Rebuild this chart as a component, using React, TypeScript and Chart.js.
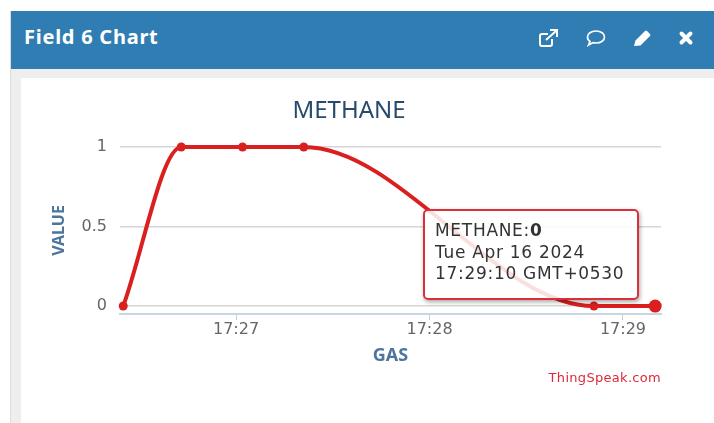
import React, { useEffect, useRef } from "react";
import { Chart, registerables } from "chart.js";

Chart.register(...registerables);

const times = ["17:26:25", "17:26:43", "17:27:02", "17:27:21", "17:28:51", "17:29:10"];
const values = [0, 1, 1, 1, 0, 0];
const xTickTimes = ["17:27:00", "17:28:00", "17:29:00"];
const yTicks = [0, 0.5, 1];
const xRange = ["17:26:24", "17:29:11.8"];
const seriesName = "METHANE";
const xTitle = "GAS";
const yTitle = "VALUE";
const panelTitle = "Field 6 Chart";
const credit = "ThingSpeak.com";
const tipDate = "Tue Apr 16 2024";
const tipTime = "17:29:10 GMT+0530";

const secs = (t: string) => {
  const [h, m, s] = t.split(":").map(Number);
  return h * 3600 + m * 60 + s;
};
const hhmm = (v: number) => {
  const h = Math.floor(v / 3600);
  const m = Math.round((v - h * 3600) / 60);
  return `${h}:${String(m).padStart(2, "0")}`;
};

const TICK_FONT = "'DejaVu Sans'";
const TITLE_FONT = "'Noto Sans'";

export default function App() {
  const ref = useRef<HTMLCanvasElement>(null);

  useEffect(() => {
    const chart = new Chart(ref.current!, {
      type: "line",
      data: {
        datasets: [
          {
            label: seriesName,
            data: times.map((t, i) => ({ x: secs(t), y: values[i] })),
            borderColor: "#d9201f",
            backgroundColor: "#d9201f",
            borderWidth: 4,
            cubicInterpolationMode: "monotone",
            pointRadius: 4.5,
            pointBorderWidth: 0,
            pointHoverRadius: 6.5,
            pointHoverBorderWidth: 0,
            pointHoverBackgroundColor: "#d9201f",
            clip: false,
          },
        ],
      },
      options: {
        animation: false,
        responsive: false,
        events: [],
        layout: { padding: { left: 16, right: 16, top: 19, bottom: 59 } },
        plugins: {
          legend: { display: false },
          tooltip: { enabled: false },
          title: {
            display: true,
            text: seriesName,
            color: "#274b6d",
            font: { family: TITLE_FONT, size: 24, weight: "normal", lineHeight: 1.2 },
            padding: { top: 0, bottom: 21.2 },
          },
        },
        scales: {
          x: {
            type: "linear",
            min: secs(xRange[0]),
            max: secs(xRange[1]),
            afterFit: (s: any) => {
              s.height = 50;
            },
            afterBuildTicks: (s: any) => {
              s.ticks = xTickTimes.map((t) => ({ value: secs(t) }));
            },
            border: { color: "#c8d6e4", width: 2 },
            grid: { drawOnChartArea: false, drawTicks: true, tickLength: 6, color: "#c0d0e0" },
            ticks: {
              color: "#666666",
              font: { family: TICK_FONT, size: 16 },
              padding: 0,
              maxRotation: 0,
              autoSkip: false,
              callback: (v: any) => hhmm(Number(v)),
            },
            title: {
              display: true,
              text: xTitle,
              color: "#4d759e",
              font: { family: TITLE_FONT, size: 18, weight: "bold", lineHeight: 1.2 },
              padding: { top: 0, bottom: -3 },
            },
          },
          y: {
            min: -0.05,
            max: 1,
            afterFit: (s: any) => {
              s.width = 83;
            },
            afterBuildTicks: (s: any) => {
              s.ticks = yTicks.map((v) => ({ value: v }));
            },
            border: { display: false },
            grid: { color: "#d6d6d6", lineWidth: 1.6, drawTicks: false },
            ticks: {
              color: "#666666",
              font: { family: TICK_FONT, size: 16 },
              padding: 13,
              callback: (v: any) => String(v),
            },
            title: {
              display: true,
              text: yTitle,
              color: "#4d759e",
              font: { family: TITLE_FONT, size: 16, weight: "bold", lineHeight: 1.2 },
              padding: { top: 13, bottom: 0 },
            },
          },
        },
      },
    } as any);
    chart.setActiveElements([{ datasetIndex: 0, index: times.length - 1 }]);
    chart.update();
    return () => chart.destroy();
  }, []);

  const icon = { position: "absolute", top: 28, width: 22, height: 20 } as const;

  return (
    <div style={{ position: "fixed", left: 0, top: 0, width: 714, height: 423, background: "#ffffff", overflow: "hidden" }}>
      <div style={{ position: "absolute", left: 10, top: 11, width: 704, height: 412, background: "#eeeeee", borderLeft: "1px solid #dddddd", boxSizing: "border-box" }} />
      <div
        style={{
          position: "absolute",
          left: 11,
          top: 11,
          width: 703,
          height: 58,
          background: "#2f7db3",
          color: "#ffffff",
          font: "bold 20px 'Noto Sans'",
          letterSpacing: "0.75px",
          lineHeight: "51px",
          paddingLeft: 13,
          boxSizing: "border-box",
        }}
      >
        {panelTitle}
      </div>
      <svg style={{ ...icon, left: 537 }} viewBox="0 0 22 20" fill="none" stroke="#fff" strokeWidth="2">
        <path d="M15 11v5a2 2 0 0 1-2 2H5a2 2 0 0 1-2-2V8a2 2 0 0 1 2-2h6" />
        <path d="M9 12 19 3M13 2h7v7" />
      </svg>
      <svg style={{ ...icon, left: 585 }} viewBox="0 0 22 20" fill="none" stroke="#fff" strokeWidth="1.7">
        <path d="M11 3c5 0 8.500 2.500 8.500 6s-3.500 6-8.500 6c-1 0-2 0-3-.4L3.500 17l1.500-3.500C3.300 12.500 2.500 11 2.500 9c0-3.500 3.500-6 8.500-6z" />
      </svg>
      <svg style={{ ...icon, left: 631 }} viewBox="0 0 22 20" fill="#fff">
        <path d="M3 18l1.500-5.500L14 3a1.500 1.500 0 0 1 2 0l3 3a1.500 1.500 0 0 1 0 2l-9.500 9.500z" />
      </svg>
      <svg style={{ ...icon, left: 675 }} viewBox="0 0 22 20" fill="none" stroke="#fff" strokeWidth="4" strokeLinecap="round">
        <path d="M6.500 5.500 15.500 14.500M15.500 5.500 6.500 14.500" />
      </svg>
      <div style={{ position: "absolute", left: 21, top: 78, width: 693, height: 345, background: "#ffffff" }} />
      <canvas ref={ref} width={656} height={345} style={{ position: "absolute", left: 21, top: 78, width: 656, height: 345 }} />
      <div style={{ position: "absolute", right: 53, top: 370, color: "#dc2a3a", font: "13px 'DejaVu Sans'", letterSpacing: "0.3px", whiteSpace: "nowrap" }}>{credit}</div>
      <div
        style={{
          position: "absolute",
          left: 423,
          top: 209,
          width: 216,
          height: 91,
          boxSizing: "border-box",
          background: "rgba(255,255,255,0.86)",
          border: "2px solid #d9303a",
          borderRadius: 5,
          boxShadow: "1px 2px 4px rgba(0,0,0,0.35)",
          padding: "9px 0 0 10px",
          color: "#333333",
          font: "17px 'DejaVu Sans'",
          letterSpacing: "0.7px",
          lineHeight: "21.5px",
          whiteSpace: "nowrap",
        }}
      >
        <div>
          {seriesName}:<b>{values[values.length - 1]}</b>
        </div>
        <div>{tipDate}</div>
        <div>{tipTime}</div>
      </div>
    </div>
  );
}
